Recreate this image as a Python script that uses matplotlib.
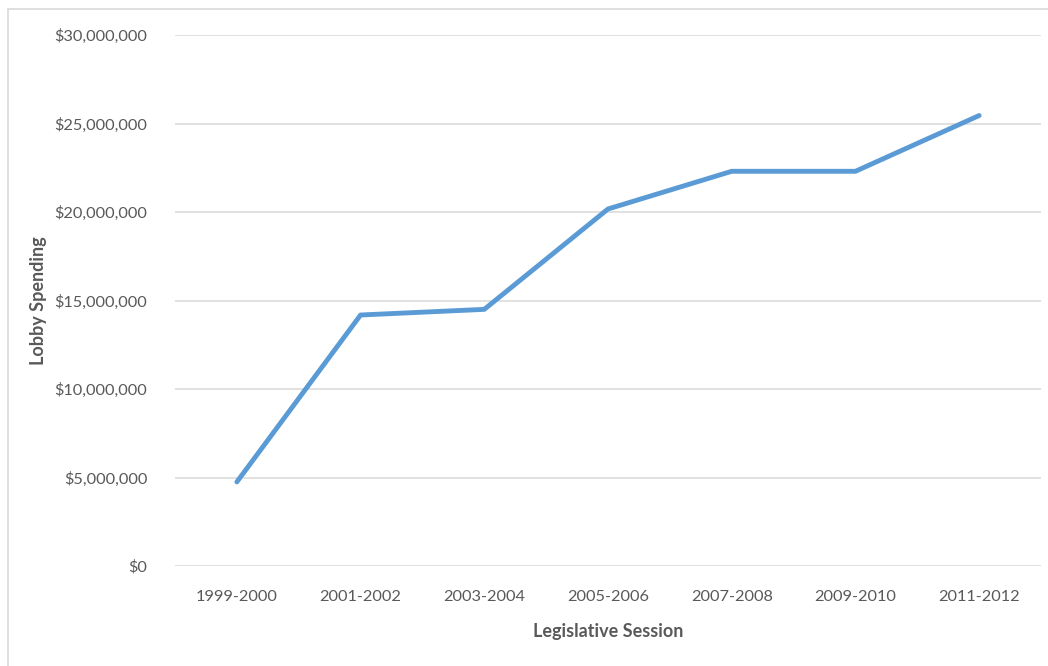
import matplotlib
matplotlib.use("Agg")
import matplotlib.pyplot as plt
from matplotlib.patches import Rectangle
from matplotlib.ticker import FuncFormatter

sessions = ["1999-2000", "2001-2002", "2003-2004", "2005-2006", "2007-2008", "2009-2010", "2011-2012"]
spending = [4750000, 14180000, 14500000, 20170000, 22300000, 22300000, 25450000]
yticks = [0, 5000000, 10000000, 15000000, 20000000, 25000000, 30000000]

plt.rcParams['font.family'] = ['Lato', 'DejaVu Sans']

W, H = 1048, 666
fig = plt.figure(figsize=(W/100, H/100), dpi=100)
fig.patches.append(Rectangle((8/W, -0.1), 1.2, 1 - 9/H + 0.1, transform=fig.transFigure,
                             fill=False, edgecolor='#d9d9d9', linewidth=1.2))
ax = fig.add_axes([175/W, 1 - 566/H, (1041 - 175)/W, (566 - 35)/H])

x = list(range(len(sessions)))
ax.plot(x, spending, color='#5B9BD5', linewidth=3.5, solid_capstyle='round', solid_joinstyle='round', zorder=3)

ax.set_xlim(-0.5, len(sessions) - 0.5)
ax.set_ylim(0, 30000000)
ax.set_yticks(yticks)
ax.yaxis.set_major_formatter(FuncFormatter(lambda v, p: "${:,.0f}".format(v)))
ax.set_xticks(x)
ax.set_xticklabels(sessions)
ax.grid(axis='y', color='#d9d9d9', linewidth=1.1)
ax.set_axisbelow(True)
for s in ax.spines.values():
    s.set_visible(False)
ax.tick_params(axis='both', length=0, labelsize=11.8, colors='#595959')
ax.tick_params(axis='y', pad=20)
ax.tick_params(axis='x', pad=17)

ax.set_xlabel("Legislative Session", fontsize=13, fontweight='bold', color='#595959', labelpad=14)
ax.set_ylabel("Lobby Spending", fontsize=13, fontweight='bold', color='#595959', labelpad=5)

fig.savefig("out.png", dpi=100)
